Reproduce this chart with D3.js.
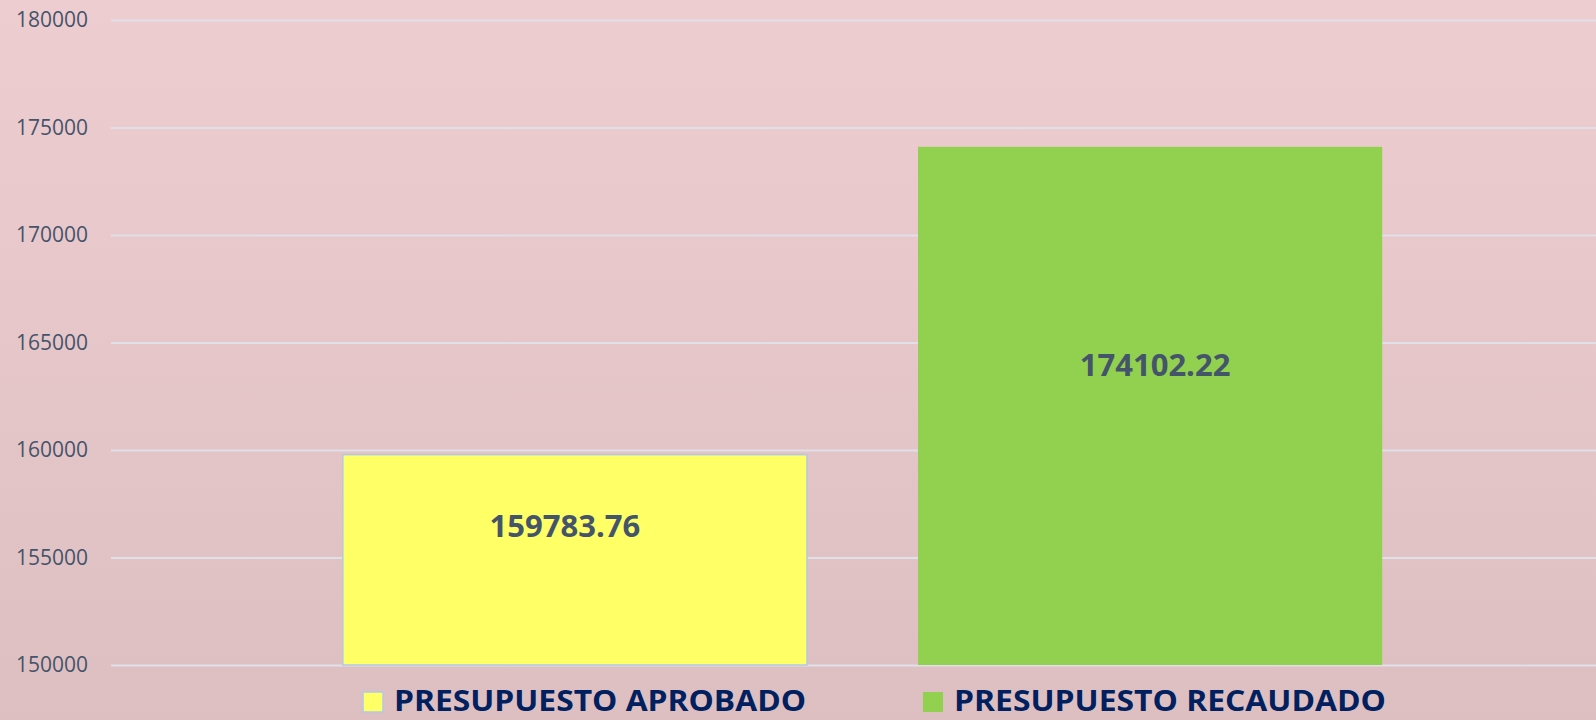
<!DOCTYPE html>
<html>
<head>
<meta charset="utf-8">
<script src="https://cdn.jsdelivr.net/npm/d3@7"></script>
<style>
  html, body { margin: 0; padding: 0; overflow: hidden; }
  body { width: 1596px; height: 720px; }
</style>
</head>
<body>
<div id="chart"></div>
<script>
// data
const series = ["PRESUPUESTO APROBADO", "PRESUPUESTO RECAUDADO"];
const values = [159783.76, 174102.22];
const colors = ["#ffff66", "#92d050"];
const tickValues = [150000, 155000, 160000, 165000, 170000, 175000, 180000];

const width = 1596, height = 720;
const margin = { top: 20, right: -18, bottom: 55, left: 111 };

const svg = d3.select("#chart")
  .append("svg")
  .attr("width", width)
  .attr("height", height);

// pink background, a bit darker at the bottom
const defs = svg.append("defs");
const grad = defs.append("linearGradient")
  .attr("id", "bg").attr("x1", 0).attr("y1", 0).attr("x2", 0).attr("y2", 1);
grad.append("stop").attr("offset", "0%").attr("stop-color", "#eecdd1");
grad.append("stop").attr("offset", "100%").attr("stop-color", "#ddbfc1");
svg.append("rect").attr("width", width).attr("height", height).attr("fill", "url(#bg)");

const y = d3.scaleLinear()
  .domain([150000, 180000])
  .range([height - margin.bottom, margin.top]);

const x = d3.scaleBand()
  .domain(series)
  .range([margin.left, width - margin.right])
  .paddingInner(0.193)
  .paddingOuter(0.403);

// grid lines + tick labels
const yAxis = d3.axisLeft(y)
  .tickValues(tickValues)
  .tickFormat(d3.format("d"))
  .tickSize(-(width - margin.left))
  .tickPadding(23);

const gy = svg.append("g")
  .attr("transform", `translate(${margin.left},0)`)
  .call(yAxis);
gy.select(".domain").remove();
gy.selectAll(".tick line")
  .attr("stroke", "#dfe0e8")
  .attr("stroke-width", 2);
gy.selectAll(".tick text")
  .attr("fill", "#44546a")
  .attr("font-family", "'Open Sans', sans-serif")
  .attr("font-size", 21);

// bars
svg.append("g")
  .selectAll("rect")
  .data(values)
  .join("rect")
  .attr("x", (d, i) => x(series[i]))
  .attr("y", d => y(d))
  .attr("width", x.bandwidth())
  .attr("height", d => y(150000) - y(d))
  .attr("fill", (d, i) => colors[i])
  .attr("stroke", (d, i) => i === 0 ? "#b4c7e7" : "none")
  .attr("stroke-width", 1.5);

// value labels (excel puts them a little off centre)
const labelBase = y(153600);
const labelShift = [-10, 5];
svg.append("g")
  .selectAll("text")
  .data(values)
  .join("text")
  .attr("x", (d, i) => x(series[i]) + x.bandwidth() / 2 + labelShift[i])
  .attr("y", (d, i) => (y(d) + labelBase) / 2 + (i === 0 ? 5 : -2))
  .attr("dy", "0.35em")
  .attr("text-anchor", "middle")
  .attr("font-family", "'Open Sans', sans-serif")
  .attr("font-weight", "bold")
  .attr("font-size", 31)
  .attr("fill", "#44546a")
  .text(d => d.toFixed(2));

// legend
const legendX = [363, 923];
const legendW = [412, 432];
const lg = svg.append("g")
  .selectAll("g")
  .data(series)
  .join("g")
  .attr("transform", (d, i) => `translate(${legendX[i]},692)`);

lg.append("rect")
  .attr("width", 20)
  .attr("height", 20)
  .attr("fill", (d, i) => colors[i])
  .attr("stroke", (d, i) => i === 0 ? "#b4c7e7" : "none")
  .attr("stroke-width", 1.5);

lg.append("text")
  .attr("x", 31)
  .attr("y", 19)
  .attr("font-family", "'Open Sans', sans-serif")
  .attr("font-weight", "bold")
  .attr("font-size", 28)
  .attr("fill", "#002060")
  .attr("textLength", (d, i) => legendW[i])
  .attr("lengthAdjust", "spacingAndGlyphs")
  .text(d => d);
</script>
</body>
</html>
